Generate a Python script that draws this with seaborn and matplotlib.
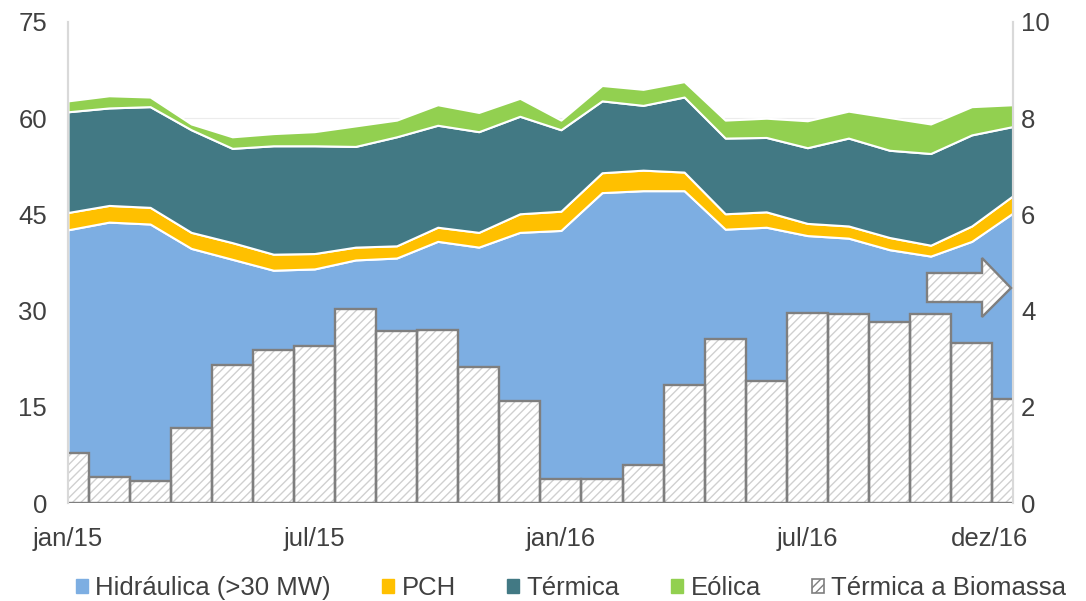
import numpy as np
import pandas as pd
import matplotlib
matplotlib.use("Agg")
import matplotlib.pyplot as plt
import matplotlib.transforms as mtransforms
from matplotlib.patches import Patch, Polygon
import seaborn as sns

# monthly data, jan/15 .. dez/16
meses = ["jan/15", "fev/15", "mar/15", "abr/15", "mai/15", "jun/15",
         "jul/15", "ago/15", "set/15", "out/15", "nov/15", "dez/15",
         "jan/16", "fev/16", "mar/16", "abr/16", "mai/16", "jun/16",
         "jul/16", "ago/16", "set/16", "out/16", "nov/16", "dez/16"]

# cumulative tops (left axis)
topo_hidr = [42.6, 43.8, 43.5, 39.7, 38.0, 36.3, 36.5, 37.9, 38.2, 40.8, 39.9, 42.2,
             42.5, 48.4, 48.7, 48.7, 42.7, 43.0, 41.7, 41.3, 39.5, 38.5, 40.8, 45.2]
topo_pch = [45.3, 46.4, 46.1, 42.2, 40.6, 38.8, 38.9, 39.9, 40.1, 43.0, 42.2, 45.1,
            45.5, 51.5, 51.9, 51.6, 45.1, 45.4, 43.6, 43.2, 41.4, 40.2, 43.2, 47.9]
topo_term = [61.0, 61.6, 61.8, 58.2, 55.3, 55.7, 55.7, 55.6, 57.1, 58.9, 57.9, 60.3,
             58.2, 62.7, 62.0, 63.3, 56.9, 57.0, 55.4, 56.9, 55.0, 54.5, 57.4, 58.7]
topo_eol = [62.7, 63.5, 63.3, 59.1, 57.1, 57.6, 57.9, 58.8, 59.7, 62.1, 60.9, 63.1,
            59.7, 65.1, 64.5, 65.7, 59.7, 60.0, 59.6, 61.1, 60.1, 59.1, 61.8, 62.1]

# biomass (right axis)
biomassa = [1.04, 0.54, 0.46, 1.56, 2.87, 3.18, 3.26, 4.03, 3.58, 3.60, 2.83, 2.12,
            0.51, 0.49, 0.80, 2.45, 3.42, 2.54, 3.95, 3.93, 3.76, 3.93, 3.33, 2.16]

hidr = np.array(topo_hidr)
pch = np.array(topo_pch) - np.array(topo_hidr)
term = np.array(topo_term) - np.array(topo_pch)
eol = np.array(topo_eol) - np.array(topo_term)

df = pd.DataFrame({"mes": meses, "biomassa": biomassa})
x = np.arange(len(meses))

cores = ["#7DAEE2", "#FFC000", "#427984", "#92D050"]
nomes = ["Hidráulica (>30 MW)", "PCH", "Térmica", "Eólica", "Térmica a Biomassa"]

sns.set_theme(style="white")
plt.rcParams["font.family"] = ["Liberation Sans", "DejaVu Sans"]
plt.rcParams["hatch.linewidth"] = 1.0
txt = "#404040"
fs = 18.5
hatch_cor = "#d0d0d0"
borda = "#7f7f7f"

fig = plt.figure(figsize=(10.86, 6.01), dpi=100)
ax = fig.add_axes([0.0626, 0.163, 0.870, 0.8004])

ax.hlines([15, 30, 45, 60], 0, 23, colors="#ececec", linewidth=0.8, zorder=0)
ax.stackplot(x, hidr, pch, term, eol, colors=cores, edgecolor="white", linewidth=1.5)
ax.set_ylim(0, 75)
ax.set_yticks([0, 15, 30, 45, 60, 75])

ax2 = ax.twinx()
sns.barplot(data=df, x="mes", y="biomassa", ax=ax2, width=1.0, color="white",
            edgecolor=hatch_cor, linewidth=0, hatch="////", saturation=1)
sns.barplot(data=df, x="mes", y="biomassa", ax=ax2, width=1.0, fill=False,
            edgecolor=borda, linewidth=1.7)
ax2.set_ylim(0, 10)
ax2.set_yticks([0, 2, 4, 6, 8, 10])
ax2.set_xlabel("")
ax2.set_ylabel("")
ax2.xaxis.set_visible(False)

# arrow pointing to the right axis
pts = [(927, 273), (982, 273), (982, 258), (1011, 288), (982, 317),
       (982, 302), (927, 302)]
flip = mtransforms.Affine2D().scale(1, -1).translate(0, 601)
seta_fundo = Polygon(pts, closed=True, facecolor="white", edgecolor=hatch_cor,
                     linewidth=0, hatch="////")
seta_fundo.set_transform(flip)
fig.add_artist(seta_fundo)
seta = Polygon(pts, closed=True, fill=False, edgecolor=borda, linewidth=1.7)
seta.set_transform(flip)
fig.add_artist(seta)

ticks = [0, 6, 12, 18, 23]
ax.set_xlim(0, 23)
ax.set_xticks(ticks)
ax.set_xticklabels([meses[i] for i in ticks])
ax.tick_params(axis="x", labelsize=fs, colors=txt, pad=17, length=0)
ax.tick_params(axis="y", labelsize=fs, colors=txt, pad=15, length=0)
ax2.tick_params(axis="y", labelsize=fs, colors=txt, pad=6, length=0)
ultimo = ax.get_xticklabels()[-1]
ultimo.set_transform(ultimo.get_transform() +
                     mtransforms.ScaledTranslation(-0.23, 0, fig.dpi_scale_trans))

for a in (ax, ax2):
    for s in ["top", "bottom"]:
        a.spines[s].set_visible(False)
    a.spines["left"].set_color("#d9d9d9")
    a.spines["right"].set_color("#d9d9d9")
    a.spines["left"].set_linewidth(1.5)
    a.spines["right"].set_linewidth(1.5)

handles = [Patch(facecolor=c, edgecolor=c) for c in cores]
handles.append(Patch(facecolor="white", edgecolor=borda, hatch="////", linewidth=1.2))
fig.legend(handles, nomes, loc="center", bbox_to_anchor=(0.526, 0.022), ncol=5,
           frameon=False, fontsize=fs, handlelength=0.45, handleheight=0.45,
           handletextpad=0.3, columnspacing=2.0, labelcolor=txt)

fig.savefig("out.png", dpi=100)
